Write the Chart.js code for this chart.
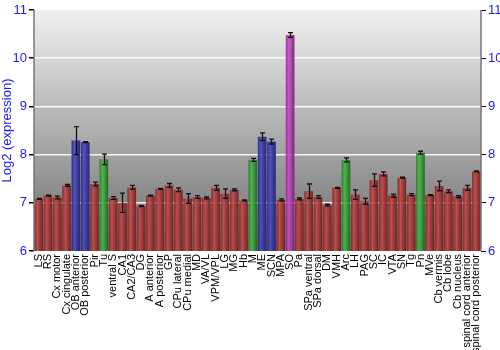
<!DOCTYPE html>
<html>
<head>
<meta charset="utf-8">
<script src="https://cdn.jsdelivr.net/npm/chart.js@4.4.1/dist/chart.umd.min.js"></script>
<style>
  html, body { margin: 0; padding: 0; background: #fff; }
  #wrap { width: 500px; height: 350px; }
</style>
</head>
<body>
<div id="wrap"><canvas id="chart"></canvas></div>
<script>
// ── data ──
const regions = ['LS','RS','Cx motor','Cx cingulate','OB anterior','OB posterior','Pir','Tu','ventral S','CA1',
  'CA2/CA3','DG','A anterior','A posterior','GP','CPu lateral','CPu medial','MD','VA/VL','VPM/VPL',
  'LG','MG','Hb','M','ME','SCN','MPA','SO','Pa','SPa ventral',
  'SPa dorsal','DM','VMH','Arc','LH','PAG','SC','IC','VTA','SN',
  'Tg','Pn','MVe','Cb vermis','Cb lobe','Cb nucleus','spinal cord anterior','spinal cord posterior'];
const expression = [7.08,7.15,7.11,7.36,8.29,8.26,7.39,7.90,7.10,7.00,
  7.32,6.93,7.15,7.29,7.36,7.27,7.09,7.12,7.10,7.31,
  7.19,7.27,7.05,7.89,8.37,8.27,7.06,10.48,7.08,7.24,
  7.12,6.95,7.31,7.89,7.17,7.03,7.47,7.60,7.15,7.52,
  7.17,8.04,7.16,7.35,7.24,7.13,7.31,7.65];
const stdErr = [0.01,0.01,0.03,0.02,0.29,0.01,0.04,0.11,0.03,0.20,
  0.04,0.01,0.01,0.01,0.04,0.04,0.10,0.03,0.02,0.05,
  0.10,0.02,0.01,0.03,0.08,0.05,0.02,0.05,0.02,0.15,
  0.03,0.02,0.01,0.04,0.10,0.06,0.13,0.04,0.03,0.01,
  0.02,0.03,0.01,0.10,0.03,0.02,0.05,0.01];
// group per region: r = red, b = blue, g = green, m = magenta
const groups = ['r','r','r','r','b','b','r','g','r','r',
  'r','r','r','r','r','r','r','r','r','r',
  'r','r','r','g','b','b','r','m','r','r',
  'r','r','r','g','r','r','r','r','r','r',
  'r','g','r','r','r','r','r','r'];
const yTicks = [6,7,8,9,10,11];

const groupColors = { r: '#b43838', b: '#3a3ab4', g: '#38a838', m: '#bb3cbb' };

// ── plugins ──
const plotBg = {
  id: 'plotBg',
  beforeDraw(chart) {
    const { ctx, chartArea: a } = chart;
    const g = ctx.createLinearGradient(0, a.top, 0, a.bottom);
    g.addColorStop(0, '#f0f0f0');
    g.addColorStop(1, '#6c6c6c');
    ctx.save();
    ctx.fillStyle = g;
    ctx.fillRect(a.left, a.top, a.right - a.left, a.bottom - a.top);
    ctx.restore();
  },
  afterDraw(chart) {
    const { ctx, chartArea: a } = chart;
    ctx.save();
    ctx.strokeStyle = '#777';
    ctx.lineWidth = 1.5;
    ctx.beginPath();
    ctx.moveTo(a.left, a.top); ctx.lineTo(a.left, a.bottom);
    ctx.moveTo(a.right, a.top); ctx.lineTo(a.right, a.bottom);
    ctx.stroke();
    ctx.restore();
  }
};

// shade bars with a horizontal gradient + draw error bars
const barShade = {
  id: 'barShade',
  afterDatasetsDraw(chart) {
    const { ctx, chartArea: a } = chart;
    const meta = chart.getDatasetMeta(0);
    const yScale = chart.scales.y;
    ctx.save();
    ctx.beginPath();
    ctx.rect(a.left, a.top, a.right - a.left, a.bottom - a.top);
    ctx.clip();
    meta.data.forEach((bar) => {
      const w = bar.width, x0 = bar.x - w / 2;
      const g = ctx.createLinearGradient(x0, 0, x0 + w, 0);
      g.addColorStop(0, 'rgba(0,0,0,0.30)');
      g.addColorStop(0.15, 'rgba(0,0,0,0.05)');
      g.addColorStop(0.35, 'rgba(255,255,255,0.12)');
      g.addColorStop(0.6, 'rgba(0,0,0,0.05)');
      g.addColorStop(1, 'rgba(0,0,0,0.40)');
      ctx.fillStyle = g;
      ctx.fillRect(x0, bar.y, w, Math.min(bar.base, a.bottom) - bar.y);
    });
    // error bars
    ctx.strokeStyle = '#111';
    ctx.lineWidth = 1.3;
    meta.data.forEach((bar, i) => {
      const v = expression[i], e = stdErr[i];
      const yHi = yScale.getPixelForValue(v + e), yLo = yScale.getPixelForValue(v - e);
      const x = Math.round(bar.x) + 0.5;
      ctx.beginPath();
      ctx.moveTo(x, yHi); ctx.lineTo(x, yLo);
      ctx.moveTo(x - 2.5, yHi); ctx.lineTo(x + 2.5, yHi);
      ctx.moveTo(x - 2.5, yLo); ctx.lineTo(x + 2.5, yLo);
      ctx.stroke();
    });
    ctx.restore();
  }
};

const FONT = 'Liberation Sans';
const gridColor = c => (c.tick && (c.tick.value === 6 || c.tick.value === 11)) ? 'rgba(0,0,0,0)' : 'rgba(255,255,255,0.9)';

new Chart(document.getElementById('chart'), {
  type: 'bar',
  data: {
    labels: regions,
    datasets: [{
      label: 'Log2 (expression)',
      data: expression,
      backgroundColor: groups.map(k => groupColors[k] + 'e6'),
      borderWidth: 0,
      barPercentage: 0.92,
      categoryPercentage: 1.0,
    }]
  },
  options: {
    responsive: true, maintainAspectRatio: false, animation: false,
    layout: { padding: { top: 10, left: 0, right: 0, bottom: 0 } },
    plugins: { legend: { display: false }, tooltip: { enabled: false } },
    scales: {
      x: {
        grid: { display: false, drawTicks: false },
        border: { display: false },
        ticks: {
          autoSkip: false, minRotation: 90, maxRotation: 90, padding: 3,
          color: '#000', font: { family: FONT, size: 11 }
        },
        afterFit: s => { s.height = 99; }
      },
      y: {
        position: 'left', min: 6, max: 11,
        afterBuildTicks: s => { s.ticks = yTicks.map(v => ({ value: v })); },
        grid: { color: gridColor, lineWidth: 1.5, tickLength: 5, tickColor: '#000' },
        border: { display: false },
        ticks: { color: '#1a1aff', padding: 2, font: { family: FONT, size: 13 } },
        title: { display: true, text: 'Log2 (expression)', color: '#1a1aff', padding: 0, font: { family: FONT, size: 13 } },
        afterFit: s => { s.width = 34; }
      },
      y2: {
        position: 'right', min: 6, max: 11,
        afterBuildTicks: s => { s.ticks = yTicks.map(v => ({ value: v })); },
        grid: { drawOnChartArea: false, tickLength: 5, tickColor: '#000' },
        border: { display: false },
        ticks: { color: '#1a1aff', padding: 2, font: { family: FONT, size: 13 } },
        afterFit: s => { s.width = 19; }
      }
    }
  },
  plugins: [plotBg, barShade]
});
</script>
</body>
</html>
